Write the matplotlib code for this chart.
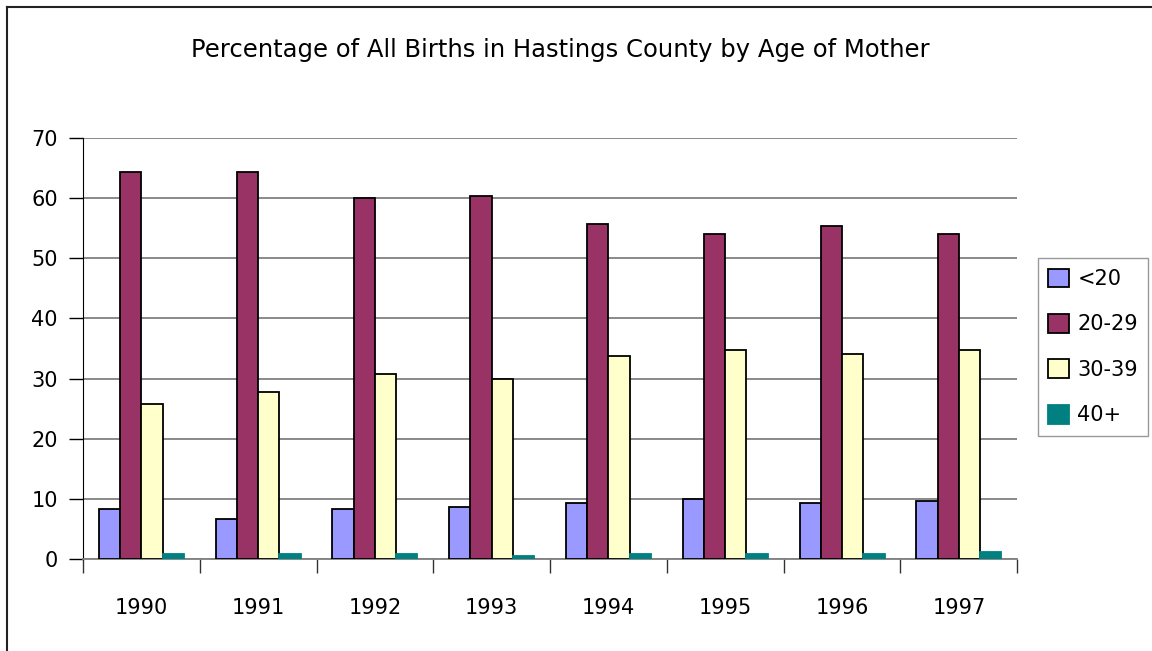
import numpy as np
import matplotlib.pyplot as plt
from matplotlib.lines import Line2D

years = ["1990", "1991", "1992", "1993", "1994", "1995", "1996", "1997"]
age_groups = ["<20", "20-29", "30-39", "40+"]
under_20 = [8.3, 6.7, 8.3, 8.7, 9.3, 10.0, 9.3, 9.7]
age_20_29 = [64.4, 64.4, 60.0, 60.3, 55.7, 54.1, 55.4, 54.1]
age_30_39 = [25.7, 27.7, 30.7, 30.0, 33.7, 34.7, 34.1, 34.7]
age_40_plus = [0.8, 0.8, 0.8, 0.45, 0.8, 0.8, 0.8, 1.15]

colors = ["#9999FF", "#993366", "#FFFFCC", "#008080"]
edges = ["black", "black", "black", "#008080"]

fig = plt.figure(figsize=(11.52, 6.51), dpi=100)
ax = fig.add_axes([0.072, 0.1413, 0.811, 0.6467])

x = np.arange(len(years))
w = 1 / 5.5
series = [under_20, age_20_29, age_30_39, age_40_plus]
for i, vals in enumerate(series):
    ax.bar(x + (i - 1.5) * w, vals, w, color=colors[i], edgecolor=edges[i],
           linewidth=1.3, label=age_groups[i], zorder=3)

ax.set_xlim(-0.5, len(years) - 0.5)
ax.set_ylim(0, 70)
ax.set_yticks(range(0, 71, 10))
ax.set_xticks(x)
ax.set_xticklabels(years)
ax.set_xticks(np.arange(-0.5, len(years)), minor=True)
ax.tick_params(axis="x", which="major", length=0, pad=28, labelsize=15)
ax.tick_params(axis="x", which="minor", length=10, width=1, direction="out", color="#333333")
ax.tick_params(axis="y", length=10, width=1, direction="out", pad=8, labelsize=15)

ax.yaxis.grid(True, color="#808080", linewidth=1.3, zorder=0)
ax.set_axisbelow(True)
for s in ["top", "right"]:
    ax.spines[s].set_visible(False)
ax.spines["bottom"].set_color("#808080")
ax.spines["bottom"].set_linewidth(1.3)
ax.spines["left"].set_color("black")

fig.text(0.486, 0.923, "Percentage of All Births in Hastings County by Age of Mother",
         ha="center", va="center", fontsize=17.5)

leg = fig.legend(loc="center", bbox_to_anchor=(0.902, 0.326, 0.0937, 0.282),
                 fontsize=15, frameon=True, fancybox=False, handlelength=1.0,
                 handleheight=1.0, handletextpad=0.4, labelspacing=1.2,
                 borderpad=0.5)
leg.get_frame().set_edgecolor("#808080")
leg.get_frame().set_linewidth(1.0)

# chart frame: only the top and left edges are visible in the crop
top = 1 - 7 / 651
left = 6.5 / 1152
fig.lines.append(Line2D([left, 1], [top, top], transform=fig.transFigure,
                        color="#222222", linewidth=1.5))
fig.lines.append(Line2D([left, left], [0, top], transform=fig.transFigure,
                        color="#222222", linewidth=1.5))

fig.savefig("out.png", dpi=100)
